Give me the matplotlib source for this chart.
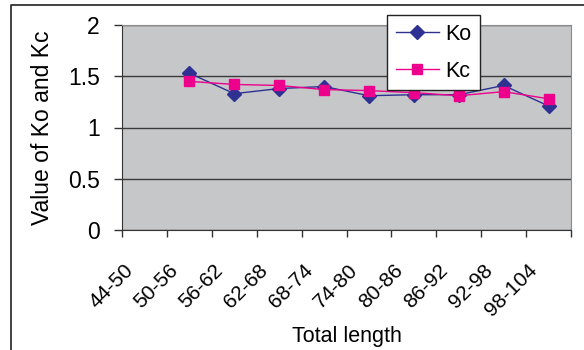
import numpy as np
import matplotlib
matplotlib.use("Agg")
import matplotlib.pyplot as plt
import matplotlib.transforms as mtransforms
from matplotlib.lines import Line2D

plt.rcParams['font.family'] = ['Liberation Sans', 'DejaVu Sans']

# length classes and the two coefficients (first class has no data)
classes = ['44-50', '50-56', '56-62', '62-68', '68-74', '74-80',
           '80-86', '86-92', '92-98', '98-104']
ko = [np.nan, 1.53, 1.33, 1.38, 1.40, 1.31, 1.32, 1.32, 1.41, 1.21]
kc = [np.nan, 1.45, 1.42, 1.41, 1.37, 1.36, 1.34, 1.31, 1.35, 1.28]

W, H = 584, 350
fig = plt.figure(figsize=(W / 100, H / 100), dpi=100)
ax = fig.add_axes([122 / W, 1 - 230 / H, (571 - 122) / W, (230 - 25) / H])
ax.set_facecolor('#c6c7c9')

x = np.arange(len(classes))
ax.plot(x, ko, color='#2e3192', marker='D', markersize=7, linewidth=1,
        label='Ko', zorder=3)
ax.plot(x, kc, color='#ec008c', marker='s', markersize=6.5, linewidth=1,
        label='Kc', zorder=3)

ax.set_xlim(-0.5, len(classes) - 0.5)
ax.set_ylim(0, 2)
ax.set_yticks([0, 0.5, 1, 1.5, 2])
ax.set_yticklabels(['0', '0.5', '1', '1.5', '2'])
ax.yaxis.grid(True, color='#3a3a3a', linewidth=1)
ax.set_axisbelow(True)

# tick marks on class boundaries, labels on class centres
ax.set_xticks(np.arange(-0.5, len(classes)), minor=True)
ax.set_xticks(x)
ax.set_xticklabels(classes, rotation=45, ha='right', va='center',
                   rotation_mode='anchor', fontsize=15)
ax.tick_params(axis='x', which='major', length=0, pad=27)
ax.tick_params(axis='x', which='minor', length=5, width=1, color='#333333',
               direction='out')
ax.tick_params(axis='y', length=6, width=1, color='#333333', pad=10,
               labelsize=16.5)
shift = mtransforms.ScaledTranslation(-14 / 100, 0, fig.dpi_scale_trans)
for lab in ax.get_xticklabels():
    lab.set_transform(lab.get_transform() + shift)

for s in ['top', 'right']:
    ax.spines[s].set_color('#8a8a8a')
for s in ['left', 'bottom']:
    ax.spines[s].set_color('#333333')

ax.set_xlabel('Total length', fontsize=15.5, labelpad=4)
ax.set_ylabel('Value of Ko and Kc', fontsize=16.5, labelpad=10)

leg = fig.legend(loc='upper left', bbox_to_anchor=(387 / W, 1 - 15 / H),
                 borderaxespad=0, fontsize=15.5, handlelength=2.0,
                 labelspacing=0.75, handletextpad=0.3, fancybox=False,
                 framealpha=1, edgecolor='#222222', borderpad=0.4)
leg.get_frame().set_linewidth(1)

# outer frame on left and top
fig.add_artist(Line2D([11 / W, 11 / W, 1], [0, 1 - 5 / H, 1 - 5 / H],
                      transform=fig.transFigure, color='#333333',
                      linewidth=1.3))

fig.savefig('out.png', dpi=100)
